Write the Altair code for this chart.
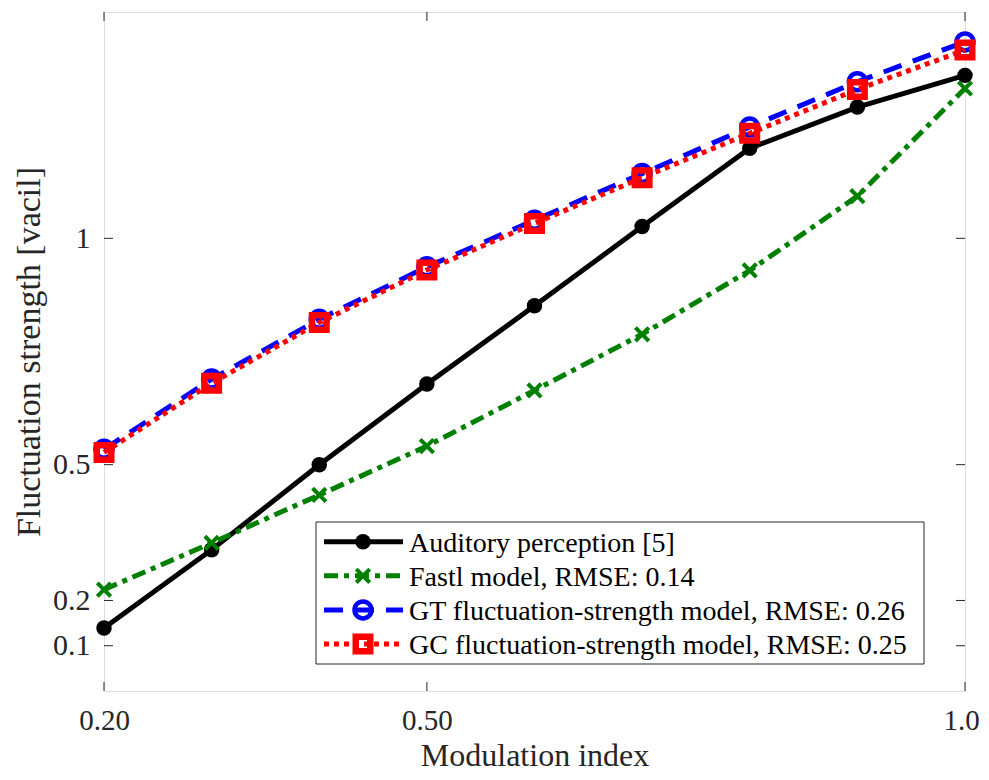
import altair as alt
import pandas as pd

# ---- data ----
mod_index = [0.2, 0.3, 0.4, 0.5, 0.6, 0.7, 0.8, 0.9, 1.0]
auditory = [0.139, 0.312, 0.500, 0.678, 0.851, 1.026, 1.199, 1.290, 1.360]
fastl = [0.224, 0.327, 0.433, 0.541, 0.664, 0.788, 0.929, 1.093, 1.331]
gt_model = [0.534, 0.689, 0.821, 0.937, 1.040, 1.143, 1.246, 1.346, 1.434]
gc_model = [0.527, 0.680, 0.814, 0.930, 1.033, 1.134, 1.232, 1.329, 1.416]
series_names = [
    "Auditory perception [5]",
    "Fastl model, RMSE: 0.14",
    "GT fluctuation-strength model, RMSE: 0.26",
    "GC fluctuation-strength model, RMSE: 0.25",
]
x_ticks = [0.2, 0.5, 1.0]
y_ticks = [0.1, 0.2, 0.5, 1.0]

# ---- layout / style ----
W, H = 861, 679
FONT = "Liberation Serif"
AX = "#262626"
xs = alt.Scale(domain=[0.2, 1.0], nice=False, zero=False)
ys = alt.Scale(domain=[0, 1.5], nice=False, zero=False)

xaxis = alt.Axis(values=x_ticks, title="Modulation index", grid=False, domain=False,
                 ticks=False, tickSize=0, labelPadding=15, labelFontSize=29, labelFont=FONT,
                 labelColor=AX, labelExpr="datum.value == 1 ? '1.0' : format(datum.value, '.2f')",
                 labelOffset={"condition": {"test": "datum.value == 1", "value": -4}, "value": 0},
                 labelFlush=False, labelOverlap=False,
                 titleFont=FONT, titleFontSize=32, titleFontWeight="normal", titleColor=AX,
                 titleBaseline="middle", titleY=64, titleX=W / 2)
yaxis = alt.Axis(values=y_ticks, title="Fluctuation strength [vacil]", grid=False, domain=False,
                 ticks=False, tickSize=0, labelPadding=14, labelFontSize=30, labelFont=FONT,
                 labelColor=AX, labelFlush=False, labelOverlap=False, format="~g",
                 titleFont=FONT, titleFontSize=34, titleFontWeight="normal", titleColor=AX,
                 titleBaseline="middle", titleAngle=270, titleX=-75, titleY=H / 2)

SHAPE_X = "M -1 -1 L 1 1 M -1 1 L 1 -1"
styles = [
    dict(color="#000000", dash=None, mark=dict(shape="circle", filled=True, fill="#000000",
                                                 stroke="#000000", strokeWidth=0, size=240)),
    dict(color="#008000", dash=[14, 6, 5, 6], mark=dict(shape=SHAPE_X, filled=False, stroke="#008000",
                                                         strokeWidth=4, size=180)),
    dict(color="#0000ff", dash=[19, 12], mark=dict(shape="circle", filled=False, stroke="#0000ff",
                                                    strokeWidth=4.5, size=289)),
    dict(color="#ff0000", dash=[5, 5], mark=dict(shape="square", filled=False, stroke="#ff0000",
                                                  strokeWidth=6.5, size=210)),
]
values = [auditory, fastl, gt_model, gc_model]

layers = []
for name, vals, st in zip(series_names, values, styles):
    df = pd.DataFrame({"x": mod_index, "y": vals, "series": name})
    line_kw = dict(color=st["color"], strokeWidth=5, strokeCap="butt", clip=False)
    if st["dash"]:
        line_kw["strokeDash"] = st["dash"]
    base = alt.Chart(df).encode(
        x=alt.X("x:Q", scale=xs, axis=xaxis),
        y=alt.Y("y:Q", scale=ys, axis=yaxis),
    )
    layers.append(base.mark_line(**line_kw))
    layers.append(base.mark_point(opacity=1, clip=False, **st["mark"]))

# inward ticks (MATLAB box style)
TL = 9
xt = pd.DataFrame({"v": x_ticks})
yt = pd.DataFrame({"v": y_ticks})
tick_style = dict(color=AX, strokeWidth=1)
layers.append(alt.Chart(xt).mark_rule(**tick_style).encode(
    x=alt.X("v:Q", scale=xs, axis=xaxis), y=alt.value(H), y2=alt.value(H - TL)))
layers.append(alt.Chart(xt).mark_rule(**tick_style).encode(
    x=alt.X("v:Q", scale=xs, axis=xaxis), y=alt.value(0), y2=alt.value(TL)))
layers.append(alt.Chart(yt).mark_rule(**tick_style).encode(
    y=alt.Y("v:Q", scale=ys, axis=yaxis), x=alt.value(0), x2=alt.value(TL)))
layers.append(alt.Chart(yt).mark_rule(**tick_style).encode(
    y=alt.Y("v:Q", scale=ys, axis=yaxis), x=alt.value(W - TL), x2=alt.value(W)))

# legend box drawn inside the plot (bottom right)
one = pd.DataFrame({"k": [0]})
layers.append(alt.Chart(one).mark_rect(fill="white", stroke=AX, strokeWidth=1).encode(
    x=alt.value(212), x2=alt.value(820), y=alt.value(510), y2=alt.value(652)))
for i, (name, st) in enumerate(zip(series_names, styles)):
    ry = 529.7 + 34.1 * i
    ldf = pd.DataFrame({"label": [name]})
    lkw = dict(color=st["color"], strokeWidth=5, strokeCap="butt")
    if st["dash"]:
        lkw["strokeDash"] = st["dash"]
    layers.append(alt.Chart(ldf).mark_rule(**lkw).encode(
        x=alt.value(220), x2=alt.value(299), y=alt.value(ry)))
    layers.append(alt.Chart(ldf).mark_point(opacity=1, **st["mark"]).encode(
        x=alt.value(259), y=alt.value(ry)))
    layers.append(alt.Chart(ldf).mark_text(align="left", baseline="middle", font=FONT,
                                           fontSize=28, color="#000000", dy=2).encode(
        x=alt.value(305), y=alt.value(ry), text="label:N"))

chart = alt.layer(*layers).properties(
    width=W, height=H,
    autosize=alt.AutoSizeParams(type="none"),
    padding={"left": 96, "top": 4, "right": 16, "bottom": 81},
).configure_view(stroke=AX, strokeWidth=1.2, fill="white").configure(background="white")

chart.save("out.html", embed_options={"renderer": "svg", "actions": False})
